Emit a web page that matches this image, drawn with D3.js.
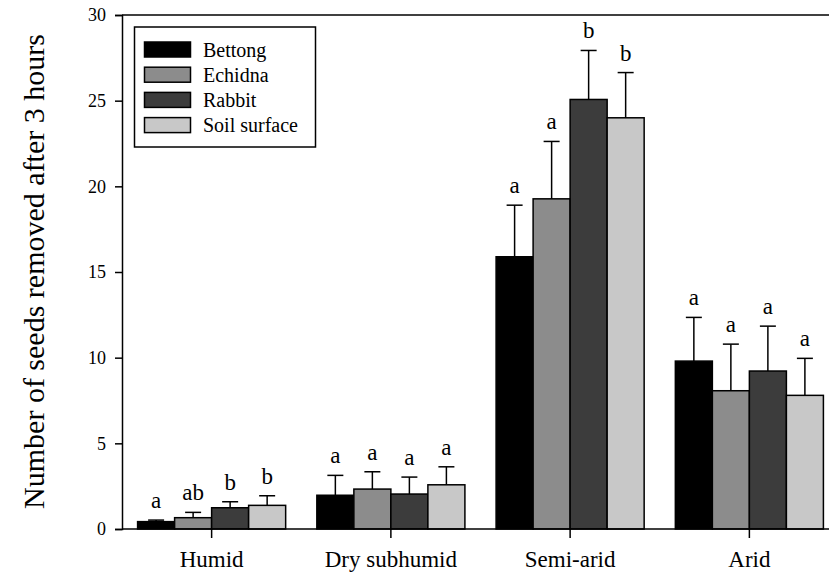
<!DOCTYPE html>
<html><head><meta charset="utf-8">
<script src="https://cdn.jsdelivr.net/npm/d3@7"></script>
<style>body{margin:0;background:#fff}svg{display:block}</style>
</head><body>
<script>
const categories = ["Humid", "Dry subhumid", "Semi-arid", "Arid"];
const seriesNames = ["Bettong", "Echidna", "Rabbit", "Soil surface"];
const seriesColors = ["#000000", "#8c8c8c", "#3c3c3c", "#c8c8c8"];
const bettong = [0.43, 1.97, 15.89, 9.8];
const echidna = [0.66, 2.33, 19.27, 8.07];
const rabbit = [1.24, 2.04, 25.07, 9.22];
const soil = [1.38, 2.58, 24.0, 7.8];
const bettongErr = [0.09, 1.16, 3.01, 2.55];
const echidnaErr = [0.31, 1.01, 3.35, 2.72];
const rabbitErr = [0.35, 0.99, 2.86, 2.62];
const soilErr = [0.56, 1.05, 2.64, 2.16];
const bettongLetters = ["a", "a", "a", "a"];
const echidnaLetters = ["ab", "a", "a", "a"];
const rabbitLetters = ["b", "a", "b", "a"];
const soilLetters = ["b", "a", "b", "a"];
const yTicks = [0, 5, 10, 15, 20, 25, 30];
const yLabel = "Number of seeds removed after 3 hours";

const values = [bettong, echidna, rabbit, soil];
const errs = [bettongErr, echidnaErr, rabbitErr, soilErr];
const letters = [bettongLetters, echidnaLetters, rabbitLetters, soilLetters];

const FONT = "'Liberation Serif', Tinos, 'Times New Roman', Times, 'Nimbus Roman', 'DejaVu Serif', serif";
const W = 829, H = 576;
const svg = d3.select("body").append("svg").attr("width", W).attr("height", H);

const x0 = d3.scaleBand().domain(categories).range([122, 839]).paddingInner(0.174).paddingOuter(0.087);
const x1 = d3.scaleBand().domain(seriesNames).range([0, x0.bandwidth()]).padding(0);
const y = d3.scaleLinear().domain([0, 30]).range([529, 15]);

const data = [];
categories.forEach((c, i) => seriesNames.forEach((s, j) => {
  data.push({c, s, j, v: values[j][i], e: errs[j][i], l: letters[j][i]});
}));

// frame (top and right)
svg.append("line").attr("x1", 122).attr("x2", 839).attr("y1", y(30)).attr("y2", y(30)).attr("stroke", "#000").attr("stroke-width", 1.5);
svg.append("line").attr("x1", 839).attr("x2", 839).attr("y1", y(30)).attr("y2", y(0)).attr("stroke", "#000").attr("stroke-width", 1.5);

const g = svg.append("g");
const cx = d => x0(d.c) + x1(d.s) + x1.bandwidth() / 2;
// error bars
const eb = g.selectAll(".eb").data(data).enter().append("g");
eb.append("line")
  .attr("x1", cx).attr("x2", cx)
  .attr("y1", d => y(d.v)).attr("y2", d => y(d.v + d.e))
  .attr("stroke", "#000").attr("stroke-width", 1.5);
eb.append("line")
  .attr("x1", d => cx(d) - 8).attr("x2", d => cx(d) + 8)
  .attr("y1", d => y(d.v + d.e)).attr("y2", d => y(d.v + d.e))
  .attr("stroke", "#000").attr("stroke-width", 1.5);
// bars
g.selectAll(".bar").data(data).enter().append("rect")
  .attr("x", d => x0(d.c) + x1(d.s))
  .attr("y", d => y(d.v))
  .attr("width", x1.bandwidth())
  .attr("height", d => y(0) - y(d.v))
  .attr("fill", d => seriesColors[d.j])
  .attr("stroke", "#000").attr("stroke-width", 1.5);
// letters
g.selectAll(".lt").data(data).enter().append("text")
  .attr("x", cx)
  .attr("y", d => y(d.v + d.e) - 12)
  .attr("text-anchor", "middle").attr("font-size", 23)
  .text(d => d.l);

// y axis
const ya = svg.append("g").attr("transform", "translate(122,0)")
  .call(d3.axisLeft(y).tickValues(yTicks).tickSize(7).tickPadding(9).tickFormat(d3.format("d")));
ya.selectAll("text").attr("font-size", 18);
ya.selectAll("line,path").attr("stroke", "#000").attr("stroke-width", 1.5);

// x axis
const xa = svg.append("g").attr("transform", "translate(0,529)")
  .call(d3.axisBottom(x0).tickSize(9).tickSizeOuter(0).tickPadding(13));
xa.select("path").attr("d", "M122,0H839");
xa.selectAll("text").attr("font-size", 23);
xa.selectAll("line,path").attr("stroke", "#000").attr("stroke-width", 1.5);

// y label
svg.append("text").attr("transform", "translate(44,271.5) rotate(-90)")
  .attr("text-anchor", "middle").attr("font-size", 30).text(yLabel);

// legend
const lg = svg.append("g");
lg.append("rect").attr("x", 134.5).attr("y", 27).attr("width", 181).attr("height", 120)
  .attr("fill", "#fff").attr("stroke", "#000").attr("stroke-width", 1.5);
seriesNames.forEach((s, j) => {
  const cy = 49.5 + j * 25.2;
  lg.append("rect").attr("x", 144.5).attr("y", cy - 7.5).attr("width", 46).attr("height", 15)
    .attr("fill", seriesColors[j]).attr("stroke", "#000").attr("stroke-width", 1.5);
  lg.append("text").attr("x", 203).attr("y", cy + 7).attr("font-size", 20).text(s);
});

svg.selectAll("g").attr("font-family", null);
svg.selectAll("text").attr("font-family", FONT).style("font-family", FONT).attr("fill", "#000");
</script>
</body></html>
